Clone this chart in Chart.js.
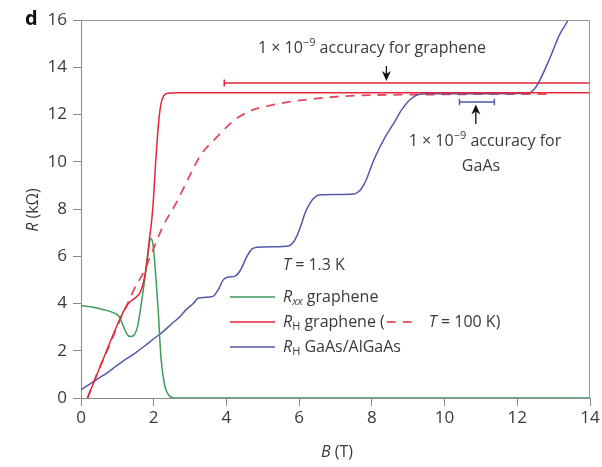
<!DOCTYPE html>
<html><head><meta charset="utf-8">
<script src="https://cdn.jsdelivr.net/npm/chart.js@4/dist/chart.umd.min.js"></script>
<style>html,body{margin:0;padding:0;background:#fff}#wrap{width:602px;height:467px}</style>
</head><body><div id="wrap"><canvas id="c" width="602" height="467"></canvas></div>
<script>
// ---- data (B in T, R in kOhm) ----
const xTicks = [0, 2, 4, 6, 8, 10, 12, 14];
const yTicks = [0, 2, 4, 6, 8, 10, 12, 14, 16];

const rxxB = [0, 0.3, 0.6, 0.9, 1.05, 1.15, 1.25, 1.35, 1.45, 1.55, 1.65, 1.75, 1.85, 1.92, 1.98, 2.05, 2.12, 2.2, 2.3, 2.4, 2.55, 14];
const rxxR = [3.92, 3.85, 3.75, 3.6, 3.45, 3.1, 2.75, 2.6, 2.65, 3.0, 3.9, 5.0, 6.2, 6.75, 6.5, 5.3, 3.8, 1.7, 0.55, 0.15, 0, 0];

const rhB = [0.18, 0.4, 0.75, 1.1, 1.3, 1.5, 1.62, 1.72, 1.8, 1.88, 1.95, 2.0, 2.05, 2.1, 2.15, 2.2, 2.27, 2.4, 2.6, 14];
const rhR = [0, 0.85, 2.17, 3.45, 4.0, 4.25, 4.45, 4.9, 5.6, 6.7, 7.6, 8.6, 9.9, 11.0, 11.9, 12.45, 12.78, 12.9, 12.92, 12.92];

const rh100B = [0.18, 0.45, 0.8, 1.1, 1.3, 1.48, 1.7, 2.0, 2.25, 2.62, 2.98, 3.3, 3.71, 4.17, 4.62, 5.08, 5.71, 6.44, 7.17, 8.0, 9.0, 10, 11, 12, 12.8];
const rh100R = [0, 1.05, 2.3, 3.4, 4.05, 4.66, 5.25, 6.34, 7.26, 8.26, 9.38, 10.3, 11.0, 11.7, 12.13, 12.34, 12.53, 12.67, 12.77, 12.82, 12.84, 12.85, 12.86, 12.86, 12.86];

const gaB = [0, 0.4, 0.75, 1.1, 1.48, 1.75, 2.02, 2.25, 2.48, 2.72, 2.9, 3.09, 3.22, 3.4, 3.63, 3.78, 3.91, 4.05, 4.24, 4.4, 4.56, 4.7, 4.85, 5.3, 5.7, 5.82, 5.93, 6.05, 6.16, 6.3, 6.45, 6.6, 7.0, 7.5, 7.62, 7.72, 7.85, 7.95, 8.09, 8.35, 8.63, 8.8, 9.0, 9.27, 9.5, 10.5, 12.3, 12.45, 12.58, 12.9, 13.17, 13.4, 13.5];
const gaR = [0.34, 0.75, 1.1, 1.5, 1.89, 2.2, 2.53, 2.8, 3.12, 3.44, 3.75, 4.0, 4.22, 4.26, 4.3, 4.6, 5.0, 5.12, 5.16, 5.45, 5.98, 6.3, 6.38, 6.4, 6.43, 6.55, 6.83, 7.3, 7.82, 8.25, 8.52, 8.6, 8.61, 8.63, 8.72, 8.88, 9.25, 9.66, 10.2, 11.0, 11.7, 12.15, 12.55, 12.84, 12.88, 12.88, 12.9, 13.05, 13.33, 14.4, 15.4, 16.0, 16.35];

// accuracy bars: [Bstart, Bend, R, capHalf]
const grapheneBar = [3.94, 14, 13.33, 0.15];
const gaasBar = [10.41, 11.37, 12.53, 0.14];
// arrows: [B, Rtail, Rhead]
const grapheneArrow = [8.4, 14.05, 13.42];
const gaasArrow = [10.86, 11.6, 12.42];

const FONT = "'Open Sans', 'Noto Sans', sans-serif";
const TXT = '#3a3a3a';
const GREEN = '#3f9a5c', RED = '#e3263a', BLUE = '#5359ab';

const pts = (xs, ys) => xs.map((x, i) => ({x, y: ys[i]}));
function barPts(b) {
  const [x0, x1, y, h] = b;
  return [{x:x0,y:y-h},{x:x0,y:y+h},{x:x0,y:null},{x:x0,y},{x:x1,y}];
}
function barPts2(b) {
  const [x0, x1, y, h] = b;
  return [{x:x0,y:y-h},{x:x0,y:y+h},{x:x0,y:null},{x:x0,y},{x:x1,y},{x:x1,y:null},{x:x1,y:y-h},{x:x1,y:y+h}];
}

function drawRich(ctx, x, y, runs, size, align) {
  const fontFor = (st) => {
    const small = st.startsWith('sub') || st === 'sup';
    const it = st === 'i' || st === 'subi';
    return (it ? 'italic ' : '') + (small ? Math.round(size * 0.68) : size) + 'px ' + FONT;
  };
  let total = 0;
  runs.forEach(([t, st]) => { ctx.font = fontFor(st); total += ctx.measureText(t).width; });
  let cx = align === 'center' ? x - total / 2 : x;
  ctx.textBaseline = 'middle';
  ctx.textAlign = 'left';
  runs.forEach(([t, st]) => {
    ctx.font = fontFor(st);
    let dy = 0;
    if (st.startsWith('sub')) dy = size * 0.3;
    if (st === 'sup') dy = -size * 0.32;
    ctx.fillText(t, cx, y + dy);
    cx += ctx.measureText(t).width;
  });
  return cx;
}

const overlay = {
  id: 'overlay',
  afterDraw(chart) {
    const ctx = chart.ctx, a = chart.chartArea, xs = chart.scales.x, ys = chart.scales.y;
    ctx.save();
    ctx.strokeStyle = '#9a9a9a'; ctx.lineWidth = 1;
    ctx.beginPath();
    ctx.moveTo(a.left, a.top + 0.5); ctx.lineTo(a.right - 0.5, a.top + 0.5); ctx.lineTo(a.right - 0.5, a.bottom);
    ctx.stroke();
    function arrow(arr, up) {
      const x = xs.getPixelForValue(arr[0]);
      const yt = ys.getPixelForValue(arr[1]);
      const yh = ys.getPixelForValue(arr[2]);
      ctx.strokeStyle = '#111'; ctx.fillStyle = '#111'; ctx.lineWidth = 1.3;
      ctx.beginPath(); ctx.moveTo(x, yt); ctx.lineTo(x, yh + (up ? 6 : -6)); ctx.stroke();
      const d = up ? 1 : -1;
      ctx.beginPath(); ctx.moveTo(x, yh); ctx.lineTo(x - 4.5, yh + d * 10); ctx.lineTo(x, yh + d * 7); ctx.lineTo(x + 4.5, yh + d * 10); ctx.closePath(); ctx.fill();
    }
    arrow(grapheneArrow, false);
    arrow(gaasArrow, true);
    ctx.fillStyle = TXT;
    drawRich(ctx, 372, 48, [['1 × 10', ''], ['−9', 'sup'], [' accuracy for graphene', '']], 16, 'center');
    drawRich(ctx, 485, 141, [['1 × 10', ''], ['−9', 'sup'], [' accuracy for', '']], 16, 'center');
    drawRich(ctx, 481, 166, [['GaAs', '']], 16, 'center');
    drawRich(ctx, 283, 265, [['T', 'i'], [' = 1.3 K', '']], 16, 'left');
    ctx.lineWidth = 1.5;
    const rows = [[297, GREEN], [322, RED], [347, BLUE]];
    rows.forEach(([y, c]) => { ctx.strokeStyle = c; ctx.beginPath(); ctx.moveTo(230, y); ctx.lineTo(275, y); ctx.stroke(); });
    ctx.fillStyle = TXT;
    drawRich(ctx, 283, 297, [['R', 'i'], ['xx', 'subi'], [' graphene', '']], 16, 'left');
    let ex = drawRich(ctx, 283, 322, [['R', 'i'], ['H', 'sub'], [' graphene (', '']], 16, 'left');
    ctx.strokeStyle = RED; ctx.lineWidth = 1.6; ctx.setLineDash([9, 7]);
    ctx.beginPath(); ctx.moveTo(ex + 2, 322); ctx.lineTo(ex + 34, 322); ctx.stroke(); ctx.setLineDash([]);
    drawRich(ctx, ex + 44, 322, [['T', 'i'], [' = 100 K)', '']], 16, 'left');
    drawRich(ctx, 283, 347, [['R', 'i'], ['H', 'sub'], [' GaAs/AlGaAs', '']], 16, 'left');
    drawRich(ctx, 337, 452, [['B', 'i'], [' (T)', '']], 16, 'center');
    ctx.save(); ctx.translate(33, 210); ctx.rotate(-Math.PI / 2);
    drawRich(ctx, 0, 0, [['R', 'i'], [' (kΩ)', '']], 16, 'center');
    ctx.restore();
    ctx.fillStyle = '#111'; ctx.font = 'bold 20px ' + FONT; ctx.textBaseline = 'middle'; ctx.textAlign = 'left';
    ctx.fillText('d', 25, 19);
    ctx.restore();
  }
};

const common = {pointRadius: 0, borderWidth: 1.5, fill: false, cubicInterpolationMode: 'monotone'};
new Chart(document.getElementById('c'), {
  type: 'line',
  data: {datasets: [
    {...common, data: pts(rhB, rhR), borderColor: RED},
    {...common, data: pts(rxxB, rxxR), borderColor: GREEN},
    {...common, data: pts(gaB, gaR), borderColor: BLUE},
    {...common, data: pts(rh100B, rh100R), borderColor: '#e04a5a', borderDash: [9, 7], borderWidth: 1.8},
    {...common, cubicInterpolationMode: 'default', tension: 0, data: barPts(grapheneBar), borderColor: RED, spanGaps: false},
    {...common, cubicInterpolationMode: 'default', tension: 0, data: barPts2(gaasBar), borderColor: BLUE, spanGaps: false}
  ]},
  options: {
    responsive: false, animation: false, devicePixelRatio: 1,
    layout: {padding: {top: 20, right: 12, left: 0, bottom: 0}},
    plugins: {legend: {display: false}, tooltip: {enabled: false}},
    scales: {
      x: {type: 'linear', min: 0, max: 14,
        afterBuildTicks: s => { s.ticks = xTicks.map(v => ({value: v})); },
        afterFit: s => { s.height = 69; },
        ticks: {color: TXT, font: {family: FONT, size: 17}, padding: 2},
        grid: {drawOnChartArea: false, tickLength: 8, color: '#8a8a8a'},
        border: {color: '#8a8a8a', width: 1}},
      y: {type: 'linear', min: 0, max: 16,
        afterBuildTicks: s => { s.ticks = yTicks.map(v => ({value: v})); },
        afterFit: s => { s.width = 81; },
        ticks: {color: TXT, font: {family: FONT, size: 17}, padding: 6},
        grid: {drawOnChartArea: false, tickLength: 8, color: '#8a8a8a'},
        border: {color: '#8a8a8a', width: 1}}
    }
  },
  plugins: [overlay]
});
</script></body></html>
